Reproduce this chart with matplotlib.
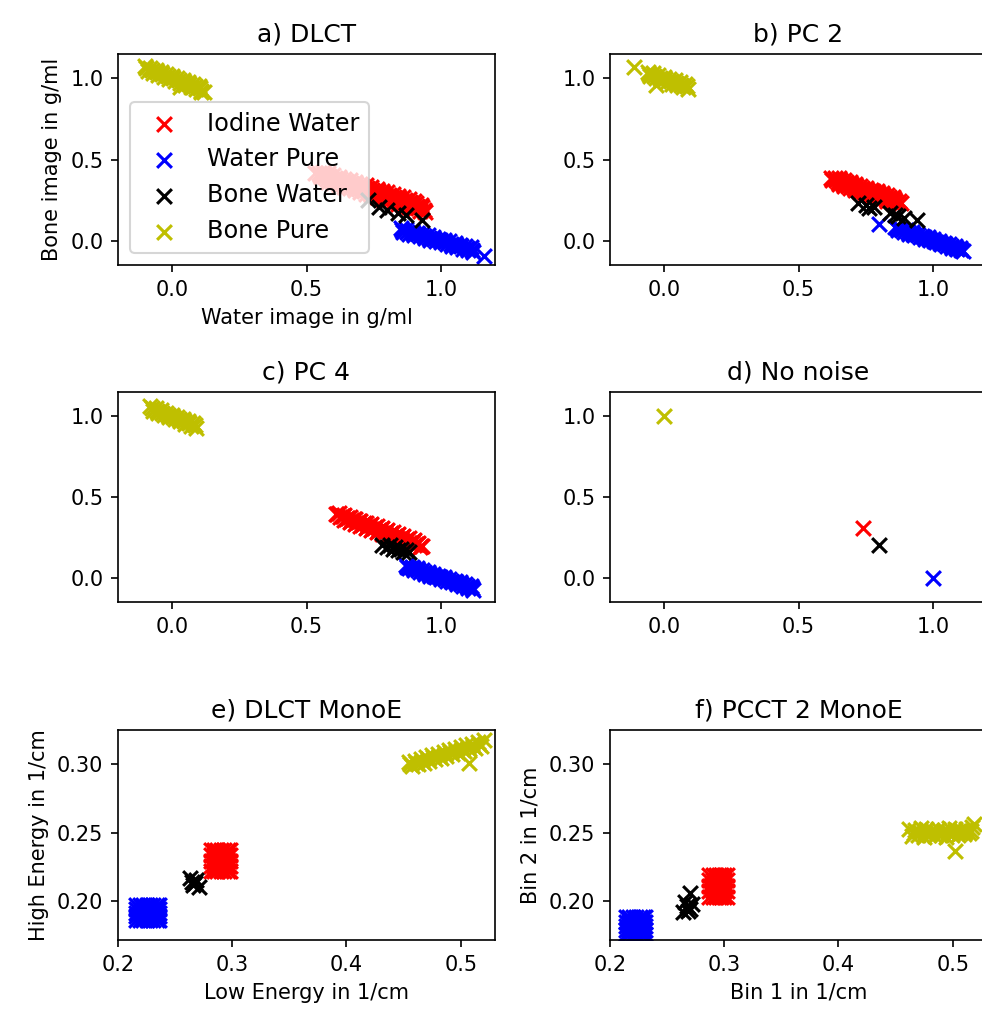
import numpy as np
import matplotlib
matplotlib.use("Agg")
import matplotlib.pyplot as plt

labels = ["Iodine Water", "Water Pure", "Bone Water", "Bone Pure"]
colors = ["r", "b", "k", "y"]

# ---- a) DLCT  (Water image / Bone image in g/ml)
a_red_x = [0.53, 0.55, 0.57, 0.59, 0.61, 0.63, 0.65, 0.67, 0.69, 0.71, 0.73, 0.75, 0.77, 0.79, 0.81, 0.83, 0.85,
           0.87, 0.89, 0.91, 0.93,
           0.56, 0.58, 0.60, 0.62, 0.64, 0.66, 0.68, 0.70, 0.72, 0.74, 0.76, 0.78, 0.80, 0.82, 0.84, 0.86, 0.88, 0.90,
           0.58, 0.60, 0.62, 0.64, 0.66, 0.68, 0.70, 0.72, 0.74, 0.76, 0.78, 0.80, 0.82, 0.84, 0.86, 0.88, 0.90,
           0.92, 0.94,
           0.545, 0.565, 0.585, 0.605, 0.625, 0.645, 0.665, 0.685, 0.705, 0.725, 0.745, 0.765, 0.785, 0.805,
           0.825, 0.845, 0.865, 0.885, 0.905, 0.925,
           0.555, 0.575, 0.595, 0.615, 0.635, 0.655, 0.675, 0.695, 0.715, 0.735, 0.755, 0.775, 0.795, 0.815,
           0.835, 0.855, 0.875, 0.895, 0.915, 0.935]
a_red_y = [0.415, 0.405, 0.394, 0.384, 0.373, 0.363, 0.352, 0.342, 0.331, 0.321, 0.310, 0.300, 0.289, 0.279,
           0.268, 0.258, 0.247, 0.237, 0.226, 0.216, 0.205,
           0.424, 0.414, 0.403, 0.393, 0.382, 0.372, 0.361, 0.351, 0.340, 0.330, 0.319, 0.309, 0.298, 0.288,
           0.277, 0.267, 0.256, 0.246,
           0.364, 0.353, 0.343, 0.332, 0.322, 0.311, 0.301, 0.290, 0.280, 0.269, 0.259, 0.248, 0.238, 0.227,
           0.217, 0.206, 0.196, 0.185, 0.175,
           0.419, 0.409, 0.398, 0.388, 0.377, 0.367, 0.356, 0.346, 0.335, 0.325, 0.314, 0.304, 0.293, 0.283,
           0.272, 0.262, 0.251, 0.241, 0.230, 0.220,
           0.390, 0.380, 0.369, 0.359, 0.348, 0.338, 0.327, 0.317, 0.306, 0.296, 0.285, 0.275, 0.264, 0.254,
           0.243, 0.233, 0.222, 0.212, 0.201, 0.191]
a_blue_x = [0.85, 0.87, 0.89, 0.91, 0.93, 0.95, 0.97, 0.99, 1.01, 1.03, 1.05, 1.07, 1.09, 1.11,
            0.86, 0.88, 0.90, 0.92, 0.94, 0.96, 0.98, 1.00, 1.02, 1.04, 1.06, 1.08, 1.10, 1.12, 1.16,
            0.855, 0.875, 0.895, 0.915, 0.935, 0.955, 0.975, 0.995, 1.015, 1.035, 1.055, 1.075, 1.095, 1.115]
a_blue_y = [0.078, 0.069, 0.059, 0.050, 0.041, 0.032, 0.022, 0.013, 0.004, -0.005, -0.015, -0.024, -0.033, -0.042,
            0.053, 0.044, 0.035, 0.026, 0.016, 0.007, -0.002, -0.011, -0.021, -0.030, -0.039, -0.049, -0.058,
            -0.067, -0.096,
            0.066, 0.056, 0.047, 0.038, 0.029, 0.019, 0.010, 0.001, -0.008, -0.018, -0.027, -0.036, -0.045, -0.055]
a_black_x = [0.73, 0.77, 0.80, 0.84, 0.87, 0.93]
a_black_y = [0.25, 0.21, 0.19, 0.17, 0.16, 0.13]
a_yel_x = [-0.10, -0.08, -0.06, -0.04, -0.02, 0.00, 0.02, 0.04, 0.06, 0.08, 0.10,
           -0.09, -0.07, -0.05, -0.03, -0.01, 0.01, 0.03, 0.05, 0.07, 0.09, 0.11, 0.12, 0.03, 0.11,
           -0.095, -0.075, -0.055, -0.035, -0.015, 0.005, 0.025, 0.045, 0.065, 0.085, 0.105]
a_yel_y = [1.076, 1.064, 1.051, 1.039, 1.027, 1.014, 1.002, 0.989, 0.977, 0.965, 0.952,
           1.048, 1.036, 1.023, 1.011, 0.999, 0.986, 0.974, 0.961, 0.949, 0.936, 0.924, 0.918, 0.945, 0.915,
           1.063, 1.051, 1.038, 1.026, 1.013, 1.001, 0.989, 0.976, 0.964, 0.951, 0.939]

# ---- b) PC 2
b_red_x = [0.62, 0.64, 0.66, 0.68, 0.70, 0.72, 0.74, 0.76, 0.78, 0.80, 0.82, 0.84, 0.86, 0.88,
           0.65, 0.67, 0.69, 0.71, 0.73, 0.75, 0.77, 0.79, 0.81, 0.83, 0.85,
           0.65, 0.67, 0.69, 0.71, 0.73, 0.75, 0.77, 0.79, 0.81, 0.83, 0.85,
           0.635, 0.655, 0.675, 0.695, 0.715, 0.735, 0.755, 0.775, 0.795, 0.815, 0.835, 0.855, 0.875,
           0.625, 0.645, 0.665, 0.685, 0.705, 0.725, 0.745, 0.765, 0.785, 0.805, 0.825, 0.845, 0.865]
b_red_y = [0.385, 0.373, 0.361, 0.349, 0.338, 0.326, 0.314, 0.302, 0.291, 0.279, 0.267, 0.256, 0.244, 0.232,
           0.385, 0.373, 0.362, 0.350, 0.338, 0.326, 0.314, 0.303, 0.291, 0.279, 0.268,
           0.349, 0.337, 0.326, 0.314, 0.302, 0.290, 0.278, 0.267, 0.255, 0.243, 0.232,
           0.385, 0.373, 0.361, 0.350, 0.338, 0.326, 0.314, 0.303, 0.291, 0.279, 0.267, 0.256, 0.244,
           0.373, 0.361, 0.349, 0.338, 0.326, 0.314, 0.302, 0.291, 0.279, 0.267, 0.255, 0.244, 0.232]
b_blue_x = [0.86, 0.88, 0.90, 0.92, 0.94, 0.96, 0.98, 1.00, 1.02, 1.04, 1.06, 1.08, 1.10,
            0.87, 0.89, 0.91, 0.93, 0.95, 0.97, 0.99, 1.01, 1.03, 1.05, 1.07, 1.09, 1.11, 0.80,
            0.865, 0.885, 0.905, 0.925, 0.945, 0.965, 0.985, 1.005, 1.025, 1.045, 1.065, 1.085, 1.105]
b_blue_y = [0.085, 0.074, 0.063, 0.052, 0.042, 0.031, 0.020, 0.009, -0.002, -0.013, -0.023, -0.034, -0.045,
            0.066, 0.055, 0.044, 0.033, 0.022, 0.011, 0.001, -0.010, -0.021, -0.032, -0.043, -0.054, -0.065, 0.10,
            0.075, 0.064, 0.054, 0.043, 0.032, 0.021, 0.010, -0.001, -0.012, -0.022, -0.033, -0.044, -0.055]
b_black_x = [0.72, 0.75, 0.76, 0.78, 0.84, 0.86, 0.87, 0.89, 0.94]
b_black_y = [0.23, 0.22, 0.20, 0.21, 0.17, 0.16, 0.15, 0.14, 0.13]
b_yel_x = [-0.06, -0.04, -0.02, 0.00, 0.02, 0.04, 0.06, 0.08,
           -0.05, -0.03, -0.01, 0.01, 0.03, 0.05, 0.07, 0.09, -0.11, -0.03,
           -0.055, -0.035, -0.015, 0.005, 0.025, 0.045, 0.065, 0.085]
b_yel_y = [1.042, 1.031, 1.020, 1.009, 0.998, 0.987, 0.976, 0.965,
           1.012, 1.001, 0.990, 0.979, 0.968, 0.957, 0.946, 0.935, 1.07, 0.96,
           1.027, 1.016, 1.005, 0.994, 0.983, 0.972, 0.961, 0.950]

# ---- c) PC 4
c_red_x = [0.61, 0.63, 0.65, 0.67, 0.69, 0.71, 0.73, 0.75, 0.77, 0.79, 0.81, 0.83, 0.85, 0.87, 0.89, 0.91, 0.93,
           0.62, 0.64, 0.66, 0.68, 0.70, 0.72, 0.74, 0.76, 0.78, 0.80, 0.82, 0.84, 0.86, 0.88, 0.90,
           0.64, 0.66, 0.68, 0.70, 0.72, 0.74, 0.76, 0.78, 0.80, 0.82, 0.84, 0.86, 0.88, 0.90, 0.92,
           0.615, 0.635, 0.655, 0.675, 0.695, 0.715, 0.735, 0.755, 0.775, 0.795, 0.815, 0.835, 0.855, 0.875,
           0.895, 0.915,
           0.625, 0.645, 0.665, 0.685, 0.705, 0.725, 0.745, 0.765, 0.785, 0.805, 0.825, 0.845, 0.865, 0.885,
           0.905, 0.925]
c_red_y = [0.392, 0.380, 0.368, 0.356, 0.344, 0.332, 0.320, 0.308, 0.296, 0.283, 0.271, 0.259, 0.247, 0.235,
           0.223, 0.211, 0.199,
           0.402, 0.390, 0.378, 0.366, 0.354, 0.342, 0.330, 0.318, 0.306, 0.293, 0.281, 0.269, 0.257, 0.245, 0.233,
           0.358, 0.346, 0.334, 0.322, 0.310, 0.298, 0.286, 0.274, 0.261, 0.249, 0.237, 0.225, 0.213, 0.201, 0.189,
           0.397, 0.385, 0.373, 0.361, 0.349, 0.337, 0.325, 0.312, 0.300, 0.288, 0.276, 0.264, 0.252, 0.240,
           0.228, 0.216,
           0.375, 0.363, 0.351, 0.339, 0.327, 0.315, 0.303, 0.290, 0.278, 0.266, 0.254, 0.242, 0.230, 0.218,
           0.206, 0.194]
c_blue_x = [0.87, 0.89, 0.91, 0.93, 0.95, 0.97, 0.99, 1.01, 1.03, 1.05, 1.07, 1.09, 1.11,
            0.88, 0.90, 0.92, 0.94, 0.96, 0.98, 1.00, 1.02, 1.04, 1.06, 1.08, 1.10, 1.12,
            0.875, 0.895, 0.915, 0.935, 0.955, 0.975, 0.995, 1.015, 1.035, 1.055, 1.075, 1.095, 1.115]
c_blue_y = [0.079, 0.069, 0.058, 0.047, 0.036, 0.025, 0.014, 0.003, -0.008, -0.019, -0.029, -0.040, -0.051,
            0.058, 0.047, 0.036, 0.025, 0.014, 0.004, -0.007, -0.018, -0.029, -0.040, -0.051, -0.062, -0.073,
            0.069, 0.058, 0.047, 0.036, 0.025, 0.014, 0.003, -0.008, -0.018, -0.029, -0.040, -0.051, -0.062]
c_black_x = [0.78, 0.80, 0.81, 0.82, 0.83, 0.84, 0.85, 0.86, 0.87, 0.88]
c_black_y = [0.20, 0.19, 0.20, 0.18, 0.19, 0.17, 0.18, 0.16, 0.17, 0.16]
c_yel_x = [-0.08, -0.06, -0.04, -0.02, 0.00, 0.02, 0.04, 0.06, 0.08,
           -0.07, -0.05, -0.03, -0.01, 0.01, 0.03, 0.05, 0.07, 0.09,
           -0.075, -0.055, -0.035, -0.015, 0.005, 0.025, 0.045, 0.065, 0.085]
c_yel_y = [1.062, 1.049, 1.036, 1.023, 1.010, 0.997, 0.984, 0.971, 0.958,
           1.033, 1.020, 1.007, 0.994, 0.981, 0.968, 0.955, 0.942, 0.929,
           1.048, 1.035, 1.022, 1.009, 0.996, 0.983, 0.970, 0.957, 0.944]

# ---- d) No noise  (one value per material)
d_x = [0.74, 1.0, 0.80, 0.0]
d_y = [0.31, 0.0, 0.20, 1.0]

# ---- e) DLCT MonoE (1/cm); square clusters given by their column / row values
e_red_cols = [0.281, 0.284, 0.287, 0.290, 0.293, 0.296, 0.298]
e_red_rows = [0.222, 0.2258, 0.2295, 0.2333, 0.237]
e_blue_cols = [0.216, 0.219, 0.222, 0.225, 0.228, 0.231, 0.234, 0.236]
e_blue_rows = [0.186, 0.1888, 0.1915, 0.1943, 0.197]
e_black_x = [0.263, 0.266, 0.268, 0.271, 0.267, 0.265]
e_black_y = [0.217, 0.212, 0.215, 0.210, 0.213, 0.214]
e_yel_x = [0.455, 0.460, 0.465, 0.470, 0.475, 0.480, 0.485, 0.490, 0.495, 0.500, 0.505, 0.510, 0.515, 0.520,
           0.4575, 0.4625, 0.4675, 0.4725, 0.4775, 0.4825, 0.4875, 0.4925, 0.4975, 0.5025, 0.5075, 0.5125,
           0.5175, 0.507,
           0.456, 0.461, 0.466, 0.471, 0.476, 0.481, 0.486, 0.491, 0.496, 0.501, 0.506, 0.511, 0.516]
e_yel_y = [0.3015, 0.3027, 0.3040, 0.3052, 0.3064, 0.3077, 0.3089, 0.3101, 0.3113, 0.3126, 0.3138, 0.3150,
           0.3163, 0.3175,
           0.2986, 0.2998, 0.3011, 0.3023, 0.3035, 0.3048, 0.3060, 0.3072, 0.3085, 0.3097, 0.3109, 0.3122,
           0.3134, 0.3010,
           0.2999, 0.3012, 0.3024, 0.3036, 0.3049, 0.3061, 0.3073, 0.3086, 0.3098, 0.3110, 0.3122, 0.3135, 0.3147]

# ---- f) PCCT 2 MonoE (1/cm)
f_red_cols = [0.287, 0.290, 0.2925, 0.295, 0.2975, 0.300, 0.302]
f_red_rows = [0.203, 0.207, 0.211, 0.215, 0.219]
f_blue_cols = [0.214, 0.217, 0.220, 0.223, 0.226, 0.229, 0.231]
f_blue_rows = [0.176, 0.179, 0.182, 0.185, 0.188]
f_black_x = [0.264, 0.267, 0.270, 0.272, 0.266, 0.270, 0.268]
f_black_y = [0.192, 0.196, 0.194, 0.198, 0.199, 0.206, 0.193]
f_yel_x = [0.462, 0.467, 0.472, 0.477, 0.482, 0.487, 0.492, 0.497, 0.502, 0.507, 0.512, 0.517,
           0.4645, 0.4695, 0.4745, 0.4795, 0.4845, 0.4895, 0.4945, 0.4995, 0.5045, 0.5095, 0.5145,
           0.519, 0.502,
           0.466, 0.471, 0.476, 0.481, 0.486, 0.491, 0.496, 0.501, 0.506, 0.511, 0.516]
f_yel_y = [0.2530, 0.2520, 0.2535, 0.2525, 0.2520, 0.2530, 0.2520, 0.2535, 0.2525, 0.2520, 0.2530, 0.2540,
           0.2475, 0.2480, 0.2470, 0.2485, 0.2475, 0.2480, 0.2470, 0.2485, 0.2480, 0.2490, 0.2500,
           0.2560, 0.2365,
           0.2500, 0.2505, 0.2498, 0.2502, 0.2500, 0.2506, 0.2497, 0.2503, 0.2500, 0.2505, 0.2510]


def grid(cols, rows):
    gx, gy = np.meshgrid(cols, rows)
    return gx.ravel(), gy.ravel()


fig = plt.figure(figsize=(982 / 150, 1019 / 150), dpi=150)
W, H = 982, 1019
boxes = [(118, 54, 495, 265), (610, 54, 987, 265),
         (118, 392, 495, 602), (610, 392, 987, 602),
         (118, 730, 495, 940), (610, 730, 987, 940)]
axs = [fig.add_axes([l / W, 1 - b / H, (r - l) / W, (b - t) / H]) for (l, t, r, b) in boxes]

S = 50
top_sets = [
    ("a) DLCT", [(a_red_x, a_red_y), (a_blue_x, a_blue_y), (a_black_x, a_black_y), (a_yel_x, a_yel_y)]),
    ("b) PC 2", [(b_red_x, b_red_y), (b_blue_x, b_blue_y), (b_black_x, b_black_y), (b_yel_x, b_yel_y)]),
    ("c) PC 4", [(c_red_x, c_red_y), (c_blue_x, c_blue_y), (c_black_x, c_black_y), (c_yel_x, c_yel_y)]),
    ("d) No noise", [([d_x[i]], [d_y[i]]) for i in range(4)]),
]
for ax, (title, sets) in zip(axs[:4], top_sets):
    for (x, y), c, lab in zip(sets, colors, labels):
        ax.scatter(x, y, marker="x", c=c, s=S, label=lab)
    ax.set_title(title)
    ax.set_xlim(-0.2, 1.2)
    ax.set_ylim(-0.15, 1.15)
    ax.set_xticks([0.0, 0.5, 1.0])
    ax.set_yticks([0.0, 0.5, 1.0])

axs[0].set_xlabel("Water image in g/ml")
axs[0].set_ylabel("Bone image in g/ml")
axs[0].legend(loc="lower left", fontsize=11.5)

bottom_sets = [
    ("e) DLCT MonoE", [grid(e_red_cols, e_red_rows), grid(e_blue_cols, e_blue_rows),
                       (e_black_x, e_black_y), (e_yel_x, e_yel_y)]),
    ("f) PCCT 2 MonoE", [grid(f_red_cols, f_red_rows), grid(f_blue_cols, f_blue_rows),
                         (f_black_x, f_black_y), (f_yel_x, f_yel_y)]),
]
for ax, (title, sets) in zip(axs[4:], bottom_sets):
    for (x, y), c, lab in zip(sets, colors, labels):
        ax.scatter(x, y, marker="x", c=c, s=S, label=lab)
    ax.set_title(title)
    ax.set_xlim(0.2, 0.53)
    ax.set_ylim(0.1715, 0.325)
    ax.set_xticks([0.2, 0.3, 0.4, 0.5])
    ax.set_yticks([0.20, 0.25, 0.30])

axs[4].set_xlabel("Low Energy in 1/cm")
axs[4].set_ylabel("High Energy in 1/cm")
axs[5].set_xlabel("Bin 1 in 1/cm")
axs[5].set_ylabel("Bin 2 in 1/cm")

fig.savefig("out.png", dpi=150)
